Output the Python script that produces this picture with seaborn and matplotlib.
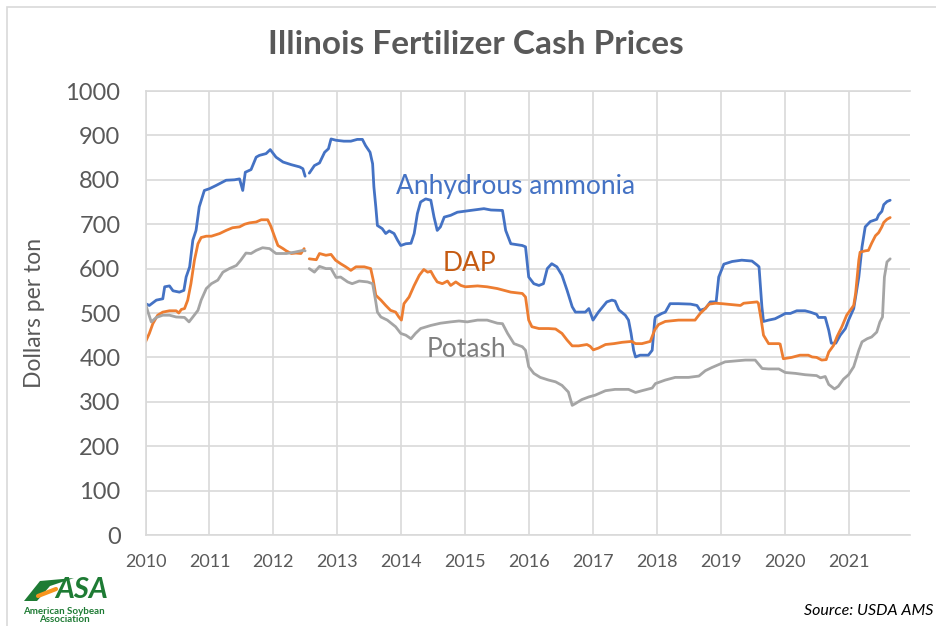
import numpy as np
import pandas as pd
import matplotlib
matplotlib.use("Agg")
import matplotlib.pyplot as plt
import seaborn as sns
from matplotlib.patches import Rectangle, Polygon
from matplotlib.lines import Line2D

# ---------------- data ($/ton) ----------------
nh3_years = [2010.0, 2010.06, 2010.17, 2010.27, 2010.30, 2010.375, 2010.43, 2010.53, 2010.60, 2010.635,
             2010.69, 2010.74, 2010.79, 2010.84, 2010.92, 2011.0, 2011.10, 2011.26, 2011.39, 2011.47,
             2011.52, 2011.56, 2011.65, 2011.73, 2011.78, 2011.885, 2011.95, 2012.04, 2012.15, 2012.28,
             2012.41, 2012.46, 2012.495, np.nan, 2012.56, 2012.64, 2012.72, 2012.80, 2012.86, 2012.90,
             2012.98, 2013.10, 2013.21, 2013.31, 2013.39, 2013.44, 2013.51, 2013.55, 2013.57, 2013.60,
             2013.625, 2013.70, 2013.755, 2013.81, 2013.885, 2013.94, 2013.99, 2014.07, 2014.15, 2014.20,
             2014.25, 2014.30, 2014.38, 2014.46, 2014.51, 2014.56, 2014.61, 2014.67, 2014.77, 2014.875,
             2015.08, 2015.29, 2015.40, 2015.58, 2015.63, 2015.71, 2015.89, 2015.94, 2015.99, 2016.07,
             2016.15, 2016.22, 2016.28, 2016.35, 2016.43, 2016.51, 2016.59, 2016.67, 2016.72, 2016.875,
             2016.93, 2016.995, 2017.08, 2017.21, 2017.29, 2017.34, 2017.40, 2017.50, 2017.55, 2017.59,
             2017.63, 2017.66, 2017.73, 2017.86, 2017.92, 2017.96, 2017.97, 2018.07, 2018.125, 2018.20,
             2018.33, 2018.52, 2018.62, 2018.67, 2018.75, 2018.83, 2018.92, 2018.96, 2019.04, 2019.17,
             2019.32, 2019.48, 2019.56, 2019.59, 2019.635, 2019.66, 2019.74, 2019.84, 2019.95, 2020.0,
             2020.08, 2020.18, 2020.31, 2020.39, 2020.49, 2020.52, 2020.625, 2020.68, 2020.72, 2020.79,
             2020.86, 2020.94, 2020.99, 2021.07, 2021.15, 2021.20, 2021.25, 2021.33, 2021.43, 2021.46,
             2021.51, 2021.54, 2021.59, 2021.64]
nh3_price = [521, 517, 529, 532, 559, 561, 550, 547, 551, 581,
             604, 664, 686, 739, 776, 780, 787, 799, 800, 802,
             776, 817, 823, 851, 855, 859, 868, 851, 840, 834,
             829, 825, 808, np.nan, 815, 832, 838, 862, 870, 892,
             889, 887, 887, 891, 891, 877, 862, 836, 784, 739,
             697, 690, 679, 685, 679, 664, 652, 656, 657, 679,
             724, 750, 757, 754, 716, 686, 694, 716, 720, 727,
             731, 735, 732, 731, 686, 656, 652, 649, 581, 566,
             562, 566, 600, 611, 604, 585, 551, 514, 502, 502,
             510, 484, 502, 525, 529, 527, 507, 495, 484, 454,
             416, 401, 405, 405, 416, 484, 491, 499, 502, 521,
             521, 520, 517, 506, 510, 525, 525, 581, 610, 616,
             619, 617, 608, 604, 514, 481, 484, 487, 495, 499,
             499, 505, 505, 502, 497, 490, 490, 461, 432, 432,
             450, 465, 484, 510, 581, 649, 694, 706, 711, 721,
             729, 744, 751, 754]

dap_years = [2010.0, 2010.06, 2010.115, 2010.19, 2010.27, 2010.375, 2010.48, 2010.52, 2010.56, 2010.61,
             2010.66, 2010.71, 2010.765, 2010.82, 2010.87, 2010.95, 2011.03, 2011.16, 2011.26, 2011.36,
             2011.47, 2011.55, 2011.625, 2011.73, 2011.81, 2011.91, 2011.96, 2012.02, 2012.07, 2012.15,
             2012.20, 2012.28, 2012.35, 2012.43, 2012.48, np.nan, 2012.56, 2012.67, 2012.72, 2012.82,
             2012.90, 2012.97, 2013.05, 2013.13, 2013.21, 2013.29, 2013.42, 2013.52, 2013.56, 2013.60,
             2013.68, 2013.755, 2013.83, 2013.91, 2013.96, 2014.0, 2014.04, 2014.12, 2014.20, 2014.28,
             2014.35, 2014.41, 2014.46, 2014.51, 2014.56, 2014.64, 2014.72, 2014.77, 2014.85, 2014.93,
             2015.0, 2015.19, 2015.34, 2015.50, 2015.71, 2015.89, 2015.94, 2015.99, 2016.04, 2016.15,
             2016.30, 2016.41, 2016.51, 2016.59, 2016.67, 2016.77, 2016.90, 2016.95, 2017.0, 2017.08,
             2017.19, 2017.32, 2017.45, 2017.60, 2017.66, 2017.76, 2017.89, 2017.96, 2018.02, 2018.125,
             2018.33, 2018.59, 2018.67, 2018.75, 2018.81, 2018.91, 2019.01, 2019.30, 2019.35, 2019.56,
             2019.58, 2019.625, 2019.66, 2019.74, 2019.90, 2019.92, 2019.97, 2020.10, 2020.23, 2020.36,
             2020.42, 2020.49, 2020.57, 2020.64, 2020.68, 2020.755, 2020.81, 2020.885, 2020.96, 2021.07,
             2021.10, 2021.15, 2021.17, 2021.25, 2021.30, 2021.35, 2021.41, 2021.46, 2021.51, 2021.54,
             2021.59, 2021.64]
dap_price = [435, 454, 476, 495, 502, 505, 505, 500, 508, 510,
             529, 566, 619, 656, 670, 673, 673, 679, 686, 692,
             694, 700, 703, 705, 710, 710, 695, 671, 652, 645,
             640, 634, 635, 634, 645, np.nan, 622, 620, 634, 630,
             632, 619, 611, 604, 596, 604, 604, 600, 574, 540,
             529, 517, 506, 502, 491, 484, 521, 536, 562, 585,
             598, 592, 594, 581, 570, 566, 572, 562, 570, 562,
             559, 561, 559, 555, 547, 544, 536, 484, 469, 465,
             465, 464, 454, 439, 426, 426, 429, 425, 417, 421,
             429, 431, 434, 436, 431, 431, 436, 462, 474, 481,
             484, 484, 499, 510, 520, 522, 521, 517, 522, 525,
             522, 484, 450, 431, 431, 430, 397, 400, 405, 405,
             401, 400, 394, 395, 412, 427, 447, 469, 495, 517,
             544, 619, 637, 640, 641, 657, 674, 681, 694, 704,
             711, 715]

potash_years = [2010.0, 2010.04, 2010.09, 2010.17, 2010.27, 2010.375, 2010.48, 2010.61, 2010.68, 2010.74,
                2010.82, 2010.87, 2010.95, 2011.03, 2011.13, 2011.21, 2011.31, 2011.42, 2011.49, 2011.57,
                2011.65, 2011.73, 2011.83, 2011.94, 2012.04, 2012.20, 2012.33, 2012.46, 2012.495, np.nan,
                2012.56, 2012.64, 2012.72, 2012.82, 2012.90, 2012.98, 2013.05, 2013.16, 2013.23, 2013.34,
                2013.47, 2013.55, 2013.60, 2013.625, 2013.68, 2013.78, 2013.91, 2013.99, 2014.07, 2014.15,
                2014.22, 2014.30, 2014.46, 2014.61, 2014.77, 2014.90, 2015.03, 2015.19, 2015.34, 2015.50,
                2015.58, 2015.66, 2015.76, 2015.89, 2015.94, 2015.99, 2016.07, 2016.17, 2016.30, 2016.41,
                2016.51, 2016.61, 2016.67, 2016.72, 2016.82, 2016.93, 2017.03, 2017.19, 2017.34, 2017.55,
                2017.66, 2017.76, 2017.92, 2017.97, 2018.125, 2018.28, 2018.49, 2018.65, 2018.75, 2018.85,
                2019.06, 2019.22, 2019.375, 2019.53, 2019.64, 2019.74, 2019.90, 2020.0, 2020.16, 2020.31,
                2020.49, 2020.55, 2020.625, 2020.68, 2020.77, 2020.83, 2020.91, 2020.99, 2021.07, 2021.15,
                2021.20, 2021.28, 2021.35, 2021.43, 2021.48, 2021.52, 2021.55, 2021.59, 2021.64]
potash_price = [521, 502, 480, 490, 495, 495, 491, 490, 480, 491,
                506, 529, 555, 566, 574, 592, 600, 607, 619, 635,
                634, 641, 647, 645, 634, 634, 637, 641, 640, np.nan,
                600, 592, 605, 600, 600, 580, 581, 570, 566, 572,
                570, 566, 525, 502, 491, 484, 469, 454, 450, 442,
                454, 465, 472, 477, 480, 482, 480, 484, 484, 477,
                476, 454, 431, 424, 416, 379, 364, 355, 349, 345,
                337, 322, 292, 296, 305, 311, 315, 325, 328, 328,
                321, 325, 331, 341, 349, 355, 355, 358, 370, 377,
                390, 392, 394, 394, 375, 374, 374, 366, 364, 361,
                359, 354, 357, 339, 329, 335, 351, 361, 379, 416,
                435, 442, 446, 457, 480, 491, 581, 615, 622]

series_names = ["Anhydrous ammonia", "DAP", "Potash"]
series_colors = ["#4472C4", "#ED7D31", "#A5A5A5"]
label_colors = ["#4472C4", "#C55A11", "#7F7F7F"]
label_pos = [(2015.79, 786), (2015.07, 612), (2015.01, 418)]
year_ticks = list(range(2010, 2022))
price_ticks = list(range(0, 1001, 100))

# ---------------- build long table, split at data gaps ----------------
frames = []
for name, xs, ys in zip(series_names,
                        [nh3_years, dap_years, potash_years],
                        [nh3_price, dap_price, potash_price]):
    d = pd.DataFrame({"year": xs, "price": ys})
    d["seg"] = d["price"].isna().cumsum()
    d["series"] = name
    frames.append(d.dropna())
df = pd.concat(frames, ignore_index=True)

# ---------------- style ----------------
sns.set_theme(style="whitegrid")
plt.rcParams["font.family"] = ["Lato", "DejaVu Sans"]
W, H = 936, 626


def fx(x):
    return x / W


def fy(y):
    return 1 - y / H


fig = plt.figure(figsize=(W / 100, H / 100), dpi=100)
fig.patch.set_facecolor("white")
ax_w = (910 - 145.5) / W
ax = fig.add_axes([fx(145.5), fy(535), ax_w, (535 - 91) / H])

sns.lineplot(data=df, x="year", y="price", hue="series", units="seg", estimator=None,
             palette=dict(zip(series_names, series_colors)), hue_order=series_names,
             linewidth=2.0, sort=False, legend=False, ax=ax)

ax.set_xlim(2010, 2021.95)
ax.set_ylim(0, 1000)
ax.set_xticks(year_ticks)
ax.set_yticks(price_ticks)
ax.set_xticklabels([str(y) for y in year_ticks], fontsize=13, color="#595959")
ax.set_yticklabels([str(v) for v in price_ticks], fontsize=17, color="#595959")
ax.tick_params(axis="x", length=0, pad=14)
ax.tick_params(axis="y", length=0, pad=18)
ax.grid(True, color="#D9D9D9", linewidth=1.2)
ax.set_facecolor("white")
ax.spines["right"].set_visible(False)
for side in ["left", "top", "bottom"]:
    ax.spines[side].set_color("#D9D9D9")
    ax.spines[side].set_linewidth(1.2)
ax.set_xlabel("")
ax.set_ylabel("Dollars per ton", fontsize=16.5, color="#595959")
ax.yaxis.set_label_coords((fx(45) - fx(145.5)) / ax_w, 0.5)

# series labels
for name, col, (lx, ly) in zip(series_names, label_colors, label_pos):
    ax.text(lx, ly, name, color=col, fontsize=19, ha="center", va="center")

# title
fig.text(fx(476), fy(44), "Illinois Fertilizer Cash Prices", fontsize=24, fontweight="bold",
         color="#595959", ha="center", va="center")

# source note
fig.text(fx(933), fy(611), "Source: USDA AMS", fontsize=11.5, style="italic",
         color="#000000", ha="right", va="center")

# outer frame
fig.patches.append(Rectangle((fx(7), -0.1), 1.0, fy(7) + 0.1, transform=fig.transFigure,
                             fill=False, edgecolor="#D9D9D9", linewidth=1.2))

# ASA logo (rough)
swoosh = [(24, 601), (40, 581), (74, 578), (50, 586), (37, 601)]
fig.patches.append(Polygon([(fx(a), fy(b)) for a, b in swoosh], closed=True,
                           transform=fig.transFigure, facecolor="#1E7B34", edgecolor="none"))
fig.lines.append(Line2D([fx(38), fx(56)], [fy(596), fy(589)], transform=fig.transFigure,
                        color="#F7941D", linewidth=3, solid_capstyle="round"))
fig.text(fx(82), fy(590), "ASA", fontsize=21, fontweight="bold", style="italic",
         color="#1E7B34", ha="center", va="center")
fig.text(fx(64), fy(611), "American Soybean", fontsize=7, fontweight="bold", color="#1E7B34",
         ha="center", va="center")
fig.text(fx(64), fy(619), "Association", fontsize=7, fontweight="bold", color="#1E7B34",
         ha="center", va="center")

fig.savefig("out.png", dpi=100)
